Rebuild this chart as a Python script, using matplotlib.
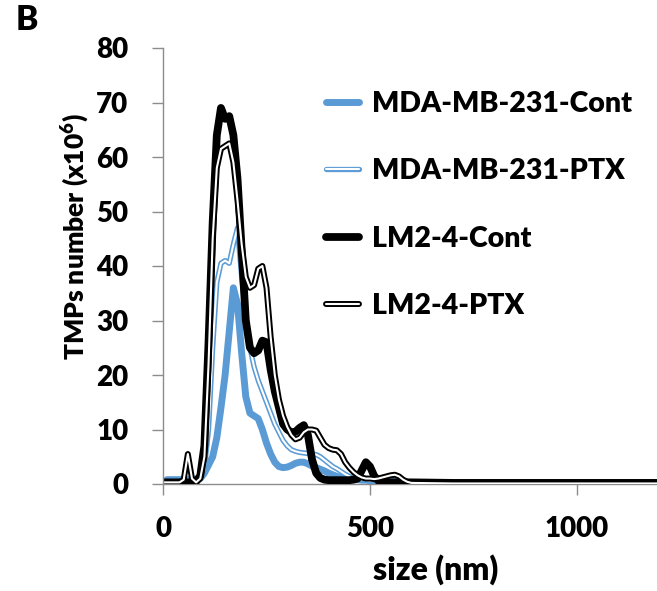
import matplotlib
matplotlib.use("Agg")
from matplotlib import pyplot as plt
import numpy as np

plt.rcParams['font.family'] = ['Lato', 'DejaVu Sans']
plt.rcParams['font.weight'] = 'heavy'
plt.rcParams['mathtext.fontset'] = 'custom'
plt.rcParams['mathtext.rm'] = 'Lato'

# particle size bins (nm): 10 nm steps up to 600, coarse tail after
size_nm = list(range(0, 610, 10)) + [700, 800, 900, 1000, 1100, 1200]

# TMPs number (x10^6)
mda_cont = [0.2, 0.8, 0.8, 0.8, 0.8, 0.8, 0.8, 0.8, 0.8, 1.0,
            2.0, 3.5, 5.0, 8.5, 14, 20, 28, 36, 33, 24,
            16, 13, 12.5, 12, 10, 7.5, 5.5, 4.0, 3.2, 3.0,
            3.1, 3.4, 3.8, 4.0, 4.0, 3.7, 3.3, 3.0, 2.7, 2.4,
            2.0, 1.7, 1.4, 1.2, 1.0, 0.9, 0.8, 0.8, 0.7, 0.7,
            0.6, 0.6, 0.6, 0.6, 0.6, 0.6, 0.5, 0.4, 0.3, 0.2,
            0.2, 0.1, 0.1, 0.1, 0.1, 0.1, 0.1]
mda_ptx = [0.2, 0.5, 0.5, 0.5, 0.5, 0.5, 0.5, 0.5, 0.6, 1.0,
           3.0, 10, 25, 37, 40.5, 41, 40.5, 44, 47, 38,
           31, 25, 21.5, 19, 17, 15, 13, 11, 9.5, 8.0,
           7.0, 6.3, 6.0, 5.8, 5.7, 5.6, 5.5, 5.4, 5.0, 4.4,
           3.8, 3.2, 2.8, 2.3, 1.8, 1.4, 1.1, 0.9, 0.8, 0.7,
           0.6, 0.6, 0.5, 0.5, 0.5, 0.5, 0.4, 0.3, 0.3, 0.2,
           0.2, 0.1, 0.1, 0.1, 0.1, 0.1, 0.1]
lm2_cont = [0.3, 0.3, 0.3, 0.3, 0.3, 0.3, 0.3, 0.3, 0.5, 1.5,
            7, 26, 48, 64, 69, 67, 67.5, 64, 56, 43,
            30, 25, 24, 24.5, 26.3, 26, 21, 17, 14, 11,
            10, 9.5, 9.6, 10.3, 10.8, 9, 4.5, 2.0, 1.1, 0.8,
            0.7, 0.7, 0.7, 0.7, 0.7, 0.7, 0.8, 1.0, 2.5, 4.0,
            3.2, 1.5, 0.6, 0.3, 0.3, 0.3, 0.3, 0.3, 0.3, 0.3,
            0.3, 0.2, 0.2, 0.2, 0.2, 0.2, 0.2]
lm2_ptx = [0.3, 0.3, 0.3, 0.3, 0.3, 0.8, 5.5, 1.0, 0.3, 1.0,
           5, 22, 45, 58, 61.5, 62, 62.5, 59, 52, 44,
           38, 36, 36.5, 39.5, 40, 36, 27, 20, 15.5, 12.5,
           10.5, 9.0, 8.2, 8.5, 9.5, 10, 10, 9.8, 8.5, 7.2,
           6.6, 6.3, 6.2, 5.5, 4.0, 3.0, 2.2, 1.6, 1.2, 1.0,
           1.0, 0.9, 1.0, 1.2, 1.4, 1.6, 1.7, 1.4, 0.8, 0.4,
           0.2, 0.1, 0.1, 0.1, 0.1, 0.1, 0.1]

labels = ['MDA-MB-231-Cont', 'MDA-MB-231-PTX', 'LM2-4-Cont', 'LM2-4-PTX']
blue = '#5b9bd5'
axis_grey = '#8c8c8c'

fig = plt.figure(figsize=(6.57, 5.91), dpi=100)
ax = fig.add_axes([163/657, 107/591, 494/657, 436/591])

kw = dict(solid_capstyle='round', solid_joinstyle='round')
h1, = ax.plot(size_nm, mda_cont, color=blue, lw=5.0, **kw)
o2, = ax.plot(size_nm, mda_ptx, color=blue, lw=3.8, **kw)
i2, = ax.plot(size_nm, mda_ptx, color='white', lw=1.5, **kw)
h3, = ax.plot(size_nm, lm2_cont, color='black', lw=5.6, **kw)
o4, = ax.plot(size_nm, lm2_ptx, color='black', lw=4.3, **kw)
i4, = ax.plot(size_nm, lm2_ptx, color='white', lw=1.5, **kw)

ax.set_xlim(0, 494/0.414)
ax.set_ylim(0, 80)
ax.set_xticks([0, 500, 1000])
ax.set_yticks(range(0, 90, 10))
for s in ['top', 'right']:
    ax.spines[s].set_visible(False)
for s in ['left', 'bottom']:
    ax.spines[s].set_color(axis_grey)
    ax.spines[s].set_linewidth(1.0)
ax.spines['bottom'].set_zorder(0)
ax.tick_params(axis='both', colors=axis_grey, length=8, width=1.0,
               labelcolor='black', labelsize=20)
ax.tick_params(axis='y', pad=17)
ax.tick_params(axis='x', pad=15)

ax.set_xlabel('size (nm)', fontsize=23, fontweight='heavy')
ax.xaxis.set_label_coords((436 - 163)/494, -(570 - 484)/436)
ax.xaxis.label.set_va('center')
ax.set_ylabel('TMPs number (x10$^{6}$)', fontsize=19, fontweight='heavy')
ax.yaxis.set_label_coords((75 - 163)/494, (484 - 237)/436)
ax.yaxis.label.set_va('center')

leg = ax.legend([h1, (o2, i2), h3, (o4, i4)], labels, loc='upper left',
                bbox_to_anchor=(0.278, 0.961), frameon=False, fontsize=20.5,
                handlelength=1.15, handletextpad=0.45, labelspacing=1.46)

fig.text(27/657, 1 - 20/591, 'B', fontsize=24, fontweight='heavy',
         ha='center', va='center')

fig.savefig('out.png', dpi=100)
